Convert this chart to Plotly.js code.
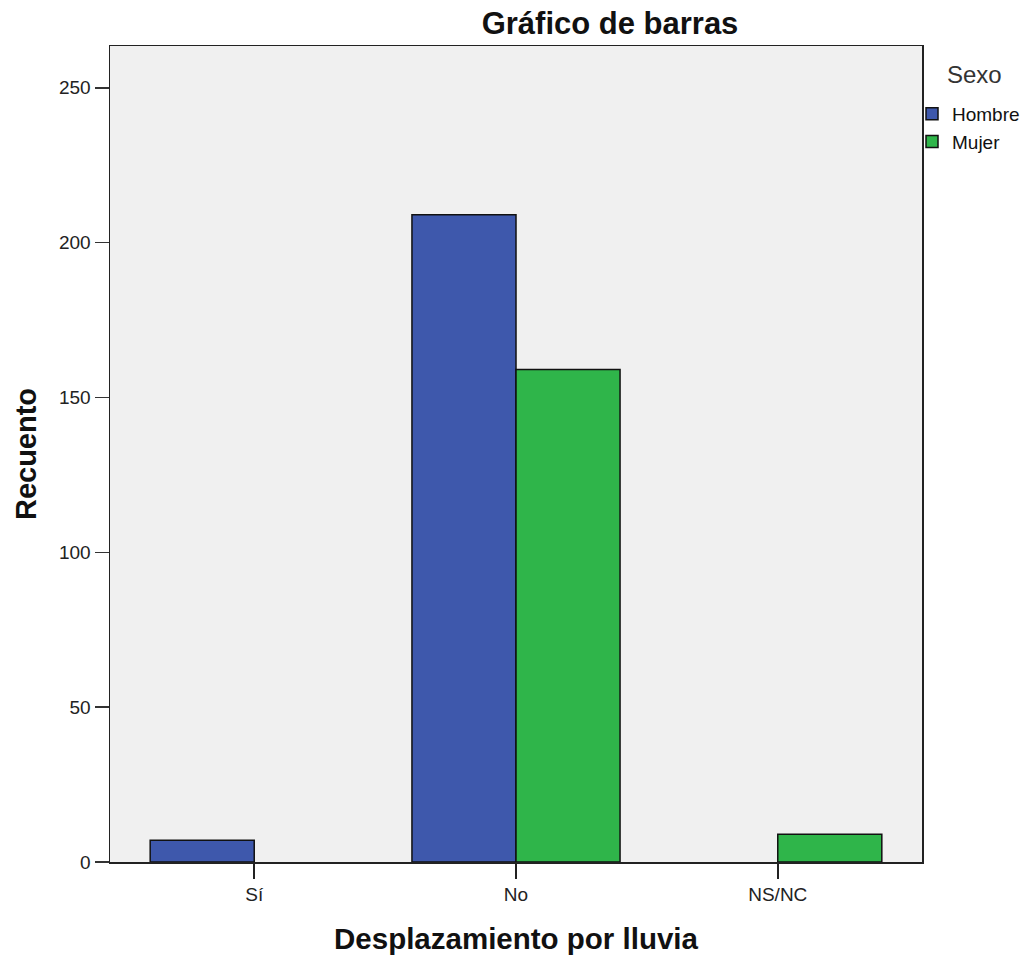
<!DOCTYPE html>
<html>
<head>
<meta charset="utf-8">
<script src="https://cdn.plot.ly/plotly-3.0.1.min.js"></script>
<style>html,body{margin:0;padding:0;background:#fff;}#chart{width:1028px;height:958px;}</style>
</head>
<body>
<div id="chart"></div>
<script>
const categories = ["Sí", "No", "NS/NC"];
const hombre = [7, 209, null];
const mujer = [null, 159, 9];
const seriesNames = ["Hombre", "Mujer"];
const legendTitle = "Sexo";
const yTicks = [0, 50, 100, 150, 200, 250];

const font = "Liberation Sans, Arial, sans-serif";
const traces = [
  {type: "bar", name: seriesNames[0], x: categories, y: hombre,
   marker: {color: "#3E58AC", line: {color: "#111", width: 1.5}}},
  {type: "bar", name: seriesNames[1], x: categories, y: mujer,
   marker: {color: "#2FB54A", line: {color: "#111", width: 1.5}}}
];

const layout = {
  width: 1028, height: 958,
  margin: {l: 110, r: 106, t: 46, b: 96, autoexpand: false},
  paper_bgcolor: "#ffffff",
  plot_bgcolor: "#F0F0F0",
  barmode: "group",
  bargap: 0.205,
  bargroupgap: 0,
  font: {family: font, size: 19, color: "#222"},
  title: {text: "<b>Gráfico de barras</b>", x: 610/1028, xanchor: "center", xref: "container",
          yref: "container", y: 1 - 23/958, yanchor: "middle", font: {family: font, size: 31, color: "#111"}},
  xaxis: {
    type: "category", range: [-0.551, 2.551],
    showgrid: false, zeroline: false,
    showline: true, linecolor: "#222", linewidth: 1.5, mirror: true,
    ticks: "outside", ticklen: 15, tickwidth: 1.5, tickcolor: "#222",
    tickfont: {family: font, size: 19, color: "#222"},
    title: {text: "<b>Desplazamiento por lluvia</b>", standoff: 24,
            font: {family: font, size: 29.5, color: "#111"}}
  },
  yaxis: {
    range: [0, 263.5],
    tickvals: yTicks,
    showgrid: false, zeroline: false,
    showline: true, linecolor: "#222", linewidth: 1.5, mirror: true,
    ticks: "outside", ticklen: 14, tickwidth: 1.5, tickcolor: "#333",
    tickfont: {family: font, size: 19, color: "#222"},
    title: {text: "<b>Recuento</b>", standoff: 14,
            font: {family: font, size: 29, color: "#111"}}
  },
  legend: {
    xref: "container", yref: "container",
    x: 912/1028, xanchor: "left", y: 1 - 95/958, yanchor: "top",
    bgcolor: "rgba(0,0,0,0)",
    font: {family: font, size: 19, color: "#111"},
    itemwidth: 30, traceorder: "normal"
  },
  annotations: [{
    text: legendTitle, xref: "paper", yref: "paper",
    x: 0, y: 0, xanchor: "center", yanchor: "middle",
    showarrow: false, font: {family: font, size: 24, color: "#333"}
  }],
  showlegend: true
};
// legend title annotation placed at container pixels, converted to plot-area fractions
const plotW = 1028 - layout.margin.l - layout.margin.r;
const plotH = 958 - layout.margin.t - layout.margin.b;
layout.annotations[0].x = (974 - layout.margin.l) / plotW;
layout.annotations[0].y = (958 - layout.margin.b - 75) / plotH;

Plotly.newPlot("chart", traces, layout, {displayModeBar: false, staticPlot: true});
</script>
</body>
</html>
